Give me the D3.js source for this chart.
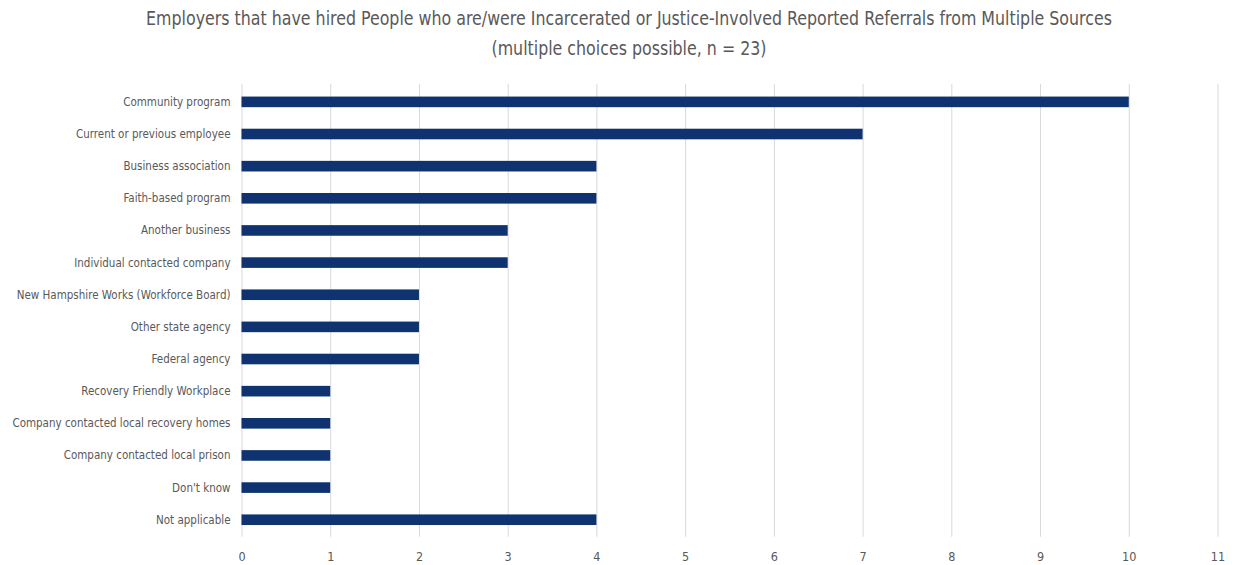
<!DOCTYPE html>
<html>
<head>
<meta charset="utf-8">
<script src="https://cdn.jsdelivr.net/npm/d3@7"></script>
<style>
  html, body { margin: 0; padding: 0; background: #ffffff; }
  svg { display: block; }
  .lbl { font-family: "DejaVu Sans Condensed", "Liberation Sans Narrow", "Open Sans", sans-serif; font-stretch: condensed; fill: #595959; }
</style>
</head>
<body>
<svg id="chart" width="1233" height="565"></svg>
<script>
// Referral sources, top to bottom
const categories = [
  "Community program",
  "Current or previous employee",
  "Business association",
  "Faith-based program",
  "Another business",
  "Individual contacted company",
  "New Hampshire Works (Workforce Board)",
  "Other state agency",
  "Federal agency",
  "Recovery Friendly Workplace",
  "Company contacted local recovery homes",
  "Company contacted local prison",
  "Don't know",
  "Not applicable"
];
const counts = [10, 7, 4, 4, 3, 3, 2, 2, 2, 1, 1, 1, 1, 4];
const tickValues = [0, 1, 2, 3, 4, 5, 6, 7, 8, 9, 10, 11];
const titleLines = [
  "Employers that have hired People who are/were Incarcerated or Justice-Involved Reported Referrals from Multiple Sources",
  "(multiple choices possible, n = 23)"
];

const svg = d3.select("#chart");
const plotLeft = 241.5, plotRight = 1217.5, plotTop = 85.8, plotBottom = 535.8;

const x = d3.scaleLinear().domain([0, 11]).range([plotLeft, plotRight]);
const y = d3.scaleBand().domain(categories).range([plotTop, plotBottom]).paddingInner(0.67).paddingOuter(0.335);

// Squeeze text horizontally to a narrower face while keeping its height
function narrow(sel, factor) {
  sel.each(function () {
    const len = this.getComputedTextLength();
    d3.select(this).attr("textLength", len * factor).attr("lengthAdjust", "spacingAndGlyphs");
  });
}

// Title
const title = svg.append("g").selectAll("text").data(titleLines).join("text")
  .attr("class", "lbl")
  .attr("x", 629)
  .attr("y", (d, i) => 25 + i * 30)
  .attr("text-anchor", "middle")
  .attr("font-size", 20)
  .text(d => d);
narrow(title, 0.88);

// Vertical gridlines
svg.append("g").selectAll("line").data(tickValues).join("line")
  .attr("x1", d => x(d) + 0.5).attr("x2", d => x(d) + 0.5)
  .attr("y1", plotTop - 2).attr("y2", plotBottom + 1)
  .attr("stroke", "#d9d9d9").attr("stroke-width", 1);

// Bars
svg.append("g").selectAll("rect").data(categories).join("rect")
  .attr("x", x(0))
  .attr("y", d => y(d))
  .attr("width", (d, i) => x(counts[i]) - x(0))
  .attr("height", y.bandwidth())
  .attr("fill", "#0e3370");

// Category axis
const yAxis = d3.axisLeft(y).tickSize(0).tickPadding(11);
const gy = svg.append("g").attr("transform", `translate(${plotLeft},0)`).call(yAxis);
gy.select(".domain").remove();
gy.selectAll("text").attr("class", "lbl").attr("font-size", 12.5).attr("fill", "#595959");
narrow(gy.selectAll("text"), 0.92);

// Value axis
const xAxis = d3.axisBottom(x).tickValues(tickValues).tickSize(0).tickPadding(0).tickFormat(d3.format("d"));
const gx = svg.append("g").attr("transform", `translate(0,${plotBottom + 16})`).call(xAxis);
gx.select(".domain").remove();
gx.selectAll("text").attr("class", "lbl").attr("font-size", 12.5).attr("fill", "#595959");
</script>
</body>
</html>
